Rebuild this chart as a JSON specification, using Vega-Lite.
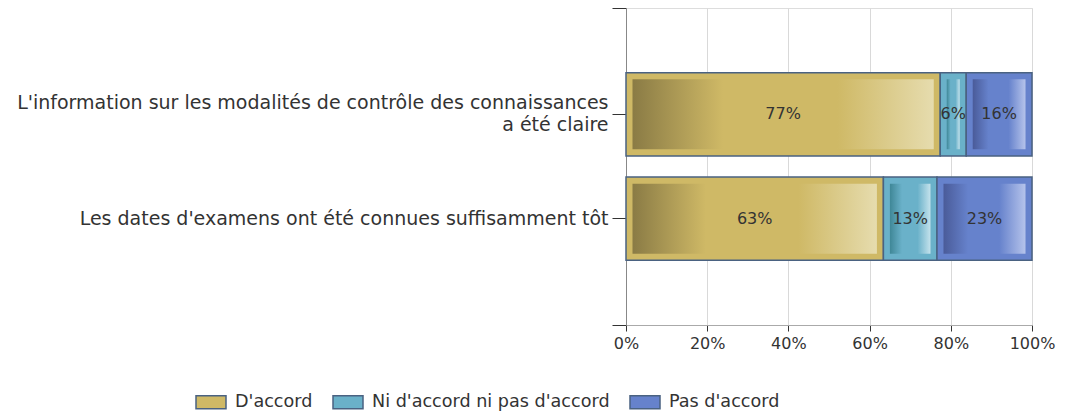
{
  "$schema": "https://vega.github.io/schema/vega-lite/v6.json",
  "width": 406,
  "height": 317,
  "autosize": {"type": "none"},
  "padding": {"left": 626, "top": 8, "right": 49, "bottom": 86},
  "config": {"view": {"stroke": "#dddddd"}, "font": "DejaVu Sans"},
  "data": {
    "values": [
      {"question": "L'information sur les modalités de contrôle des connaissances\na été claire", "reponse": "D'accord", "pct": 0.774},
      {"question": "L'information sur les modalités de contrôle des connaissances\na été claire", "reponse": "Ni d'accord ni pas d'accord", "pct": 0.064},
      {"question": "L'information sur les modalités de contrôle des connaissances\na été claire", "reponse": "Pas d'accord", "pct": 0.162},
      {"question": "Les dates d'examens ont été connues suffisamment tôt", "reponse": "D'accord", "pct": 0.634},
      {"question": "Les dates d'examens ont été connues suffisamment tôt", "reponse": "Ni d'accord ni pas d'accord", "pct": 0.132},
      {"question": "Les dates d'examens ont été connues suffisamment tôt", "reponse": "Pas d'accord", "pct": 0.234}
    ]
  },
  "transform": [
    {"stack": "pct", "groupby": ["question"], "sort": [{"field": "reponse", "order": "ascending"}], "as": ["start", "end"]}
  ],
  "resolve": {"scale": {"y": "independent"}, "axis": {"y": "independent"}},
  "layer": [
    {
      "mark": {"type": "rule", "opacity": 0},
      "encoding": {
        "y": {
          "datum": 0,
          "type": "quantitative",
          "scale": {"domain": [0, 1], "nice": false},
          "axis": {
            "orient": "left",
            "title": null,
            "values": [0, 1],
            "labels": false,
            "domain": false,
            "grid": false,
            "tickSize": 14,
            "tickColor": "#333333"
          }
        }
      }
    },
    {
      "encoding": {
        "y": {
          "field": "question",
          "type": "nominal",
          "sort": null,
          "scale": {"paddingInner": 0.2, "paddingOuter": 0.62},
          "axis": {
            "orient": "left",
            "title": null,
            "labelExpr": "split(datum.label, '\\n')",
            "labelFontSize": 19,
            "labelColor": "#333333",
            "labelLineHeight": 22,
            "labelLimit": 800,
            "labelPadding": 4,
            "labelOffset": {"condition": {"test": "indexof(datum.value, '\\n') >= 0", "value": -11}, "value": 0},
            "tickSize": 14,
            "tickColor": "#333333",
            "domainColor": "#888888"
          }
        }
      },
      "layer": [
        {
          "mark": {"type": "bar", "stroke": "#4a6281", "strokeWidth": 1.5},
          "encoding": {
            "x": {
              "field": "start",
              "type": "quantitative",
              "scale": {"domain": [0, 1], "nice": false},
              "axis": {
                "title": null,
                "values": [0, 0.2, 0.4, 0.6, 0.8, 1],
                "format": ".0%",
                "grid": true,
                "gridColor": "#d9d9d9",
                "domainColor": "#aaaaaa",
                "tickColor": "#333333",
                "tickSize": 6,
                "labelFontSize": 16,
                "labelColor": "#333333",
                "labelPadding": 4,
                "labelFlush": false
              }
            },
            "x2": {"field": "end"},
            "color": {
              "field": "reponse",
              "type": "nominal",
              "scale": {
                "domain": ["D'accord", "Ni d'accord ni pas d'accord", "Pas d'accord"],
                "range": ["#cfb966", "#6ab1c9", "#6682cc"]
              },
              "legend": {
                "orient": "none",
                "legendX": -431,
                "legendY": 378,
                "direction": "horizontal",
                "title": null,
                "symbolType": "M-1,-0.433H1V0.433H-1Z",
                "symbolSize": 900,
                "symbolStrokeColor": "#4a6281",
                "symbolStrokeWidth": 1.5,
                "symbolOpacity": 1,
                "labelFontSize": 17.6,
                "labelColor": "#333333",
                "labelOffset": 8,
                "columnPadding": 17,
                "labelLimit": 400
              }
            }
          }
        },
        {
          "transform": [{"filter": "datum.reponse == \"D'accord\""}],
          "mark": {
            "type": "bar", "height": 70, "xOffset": 6.5, "x2Offset": -6.5,
            "fill": {"gradient": "linear", "x1": 0, "x2": 1, "y1": 0, "y2": 0, "stops": [
              {"offset": 0, "color": "#8a7b45"}, {"offset": 0.3, "color": "#cfb966"},
              {"offset": 0.68, "color": "#cfb966"}, {"offset": 1, "color": "#e6dcae"}]}
          },
          "encoding": {"x": {"field": "start", "type": "quantitative"}, "x2": {"field": "end"}}
        },
        {
          "transform": [{"filter": "datum.reponse == \"Ni d'accord ni pas d'accord\""}],
          "mark": {
            "type": "bar", "height": 70, "xOffset": 6.5, "x2Offset": -6.5,
            "fill": {"gradient": "linear", "x1": 0, "x2": 1, "y1": 0, "y2": 0, "stops": [
              {"offset": 0, "color": "#3f8797"}, {"offset": 0.3, "color": "#6ab1c9"},
              {"offset": 0.68, "color": "#6ab1c9"}, {"offset": 1, "color": "#c4e2ec"}]}
          },
          "encoding": {"x": {"field": "start", "type": "quantitative"}, "x2": {"field": "end"}}
        },
        {
          "transform": [{"filter": "datum.reponse == \"Pas d'accord\""}],
          "mark": {
            "type": "bar", "height": 70, "xOffset": 6.5, "x2Offset": -6.5,
            "fill": {"gradient": "linear", "x1": 0, "x2": 1, "y1": 0, "y2": 0, "stops": [
              {"offset": 0, "color": "#4a5b99"}, {"offset": 0.3, "color": "#6682cc"},
              {"offset": 0.68, "color": "#6682cc"}, {"offset": 1, "color": "#b5c3eb"}]}
          },
          "encoding": {"x": {"field": "start", "type": "quantitative"}, "x2": {"field": "end"}}
        },
        {
          "transform": [
            {"fold": ["start", "end"], "as": ["bord", "pos"]},
            {"aggregate": [{"op": "mean", "field": "pos", "as": "mid"}, {"op": "max", "field": "pct", "as": "part"}], "groupby": ["question", "reponse"]}
          ],
          "mark": {"type": "text", "fontSize": 16, "color": "#333333"},
          "encoding": {
            "x": {"field": "mid", "type": "quantitative"},
            "text": {"field": "part", "type": "quantitative", "format": ".0%"}
          }
        }
      ]
    }
  ]
}
